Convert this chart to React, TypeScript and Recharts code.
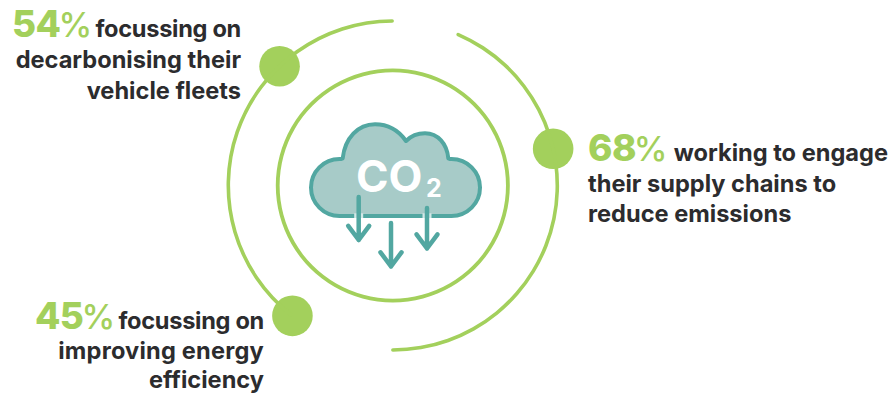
import { PieChart, Pie, Cell, Dot } from "recharts";

const GREEN = "#a3d05c";
const INK = "#2c2c2e";
const TEAL = "#52a7a1";
const CLOUD = "#a7cbc8";
const FONT = "Inter, 'Noto Sans', sans-serif";

// outer ring, clockwise from just past 12 o'clock, in degrees: gap, arc, gap, arc
const outerSegments = [22.4, 157.8, 37, 142.8];
const innerSegments = [360];

const percents = [54, 68, 45];
const markerAngles = [133.5, 12.9, 232.4];

const captions54 = ["focussing on", "decarbonising their", "vehicle fleets"];
const captions68 = ["working to engage", "their supply chains to", "reduce emissions"];
const captions45 = ["focussing on", "improving energy", "efficiency"];

const CX = 392.8;
const CY = 185.5;
const OUTER_R = 164.5;

const toRows = (values: number[]) => values.map((value, i) => ({ name: `s${i}`, value }));

const markerPoint = (angle: number) => ({
  x: CX + OUTER_R * Math.cos((angle * Math.PI) / 180),
  y: CY - OUTER_R * Math.sin((angle * Math.PI) / 180),
});

function Percent({ value, x, y }: { value: number; x: number; y: number }) {
  return (
    <text x={x} y={y} fill={GREEN} fontSize={37} fontFamily={FONT} fontWeight={800} letterSpacing={-0.6}>
      {value}
      <tspan fontWeight={500} dx={-2} fontSize={34}>%</tspan>
    </text>
  );
}

function Line({ text, x, y, anchor, tracking = 0 }: { text: string; x: number; y: number; anchor: "start" | "end"; tracking?: number }) {
  return (
    <text x={x} y={y} textAnchor={anchor} fill={INK} fontSize={23.6} fontFamily={FONT} fontWeight={700} letterSpacing={tracking}>
      {text}
    </text>
  );
}

function Arrow({ x, top, tip, wing }: { x: number; top: number; tip: number; wing: number }) {
  return (
    <path
      d={`M${x} ${top}V${tip}M${x - wing} ${tip - wing * 1.35}L${x} ${tip}L${x + wing} ${tip - wing * 1.35}`}
      fill="none"
      stroke={TEAL}
      strokeWidth={4.5}
      strokeLinecap="round"
      strokeLinejoin="round"
    />
  );
}

function CloudIcon() {
  return (
    <g>
      <path
        d="M339.500 216A28.500 28.500 0 0 1 339.500 159Q341 159 342.700 158.300C345 138 358 124.300 375 124.300C388 124.300 399 131 406 141C411 136 418 133.300 425 133.300C438 133.300 447 144 448.300 158.300Q450 159 451.500 159A28.500 28.500 0 0 1 451.500 216Z"
        fill={CLOUD}
        stroke={TEAL}
        strokeWidth={4}
        strokeLinejoin="round"
      />
      <text x={356} y={192} fill="#ffffff" fontSize={44} fontFamily={FONT} fontWeight={700}>
        CO
      </text>
      <text x={426} y={197} fill="#ffffff" fontSize={25} fontFamily={FONT} fontWeight={700}>
        2
      </text>
      {/* white notch where the arrows cross the cloud's bottom edge */}
      <path d="M358.700 213.500V219M427 213.500V219" stroke="#ffffff" strokeWidth={9} opacity={0.75} />
      <Arrow x={358.7} top={197} tip={240} wing={10.5} />
      <Arrow x={391} top={223} tip={266.5} wing={10.5} />
      <Arrow x={427} top={208} tip={248.5} wing={10.5} />
    </g>
  );
}

export default function App() {
  return (
    <div style={{ position: "absolute", left: 0, top: 0, width: 892, height: 393 }}>
      <PieChart width={892} height={393} margin={{ top: 0, right: 0, bottom: 0, left: 0 }}>
        <Pie
          data={toRows(outerSegments)}
          dataKey="value"
          cx={CX}
          cy={CY}
          innerRadius={OUTER_R - 1.8}
          outerRadius={OUTER_R + 1.8}
          startAngle={89.6}
          endAngle={-270.4}
          cornerRadius={1.8}
          stroke="none"
          isAnimationActive={false}
        >
          {outerSegments.map((_, i) => (
            <Cell key={i} fill={i % 2 === 0 ? "none" : GREEN} />
          ))}
        </Pie>
        <Pie
          data={toRows(innerSegments)}
          dataKey="value"
          cx={CX}
          cy={CY}
          innerRadius={113.2}
          outerRadius={117}
          startAngle={90}
          endAngle={-270}
          fill={GREEN}
          stroke="none"
          isAnimationActive={false}
        />
        {markerAngles.map((angle) => {
          const p = markerPoint(angle);
          return <Dot key={angle} cx={p.x} cy={p.y} r={20.3} fill={GREEN} />;
        })}
        <CloudIcon />

        <Percent value={percents[0]} x={12} y={36.5} />
        <Line text={captions54[0]} x={241} y={36.5} anchor="end" tracking={-0.3} />
        <Line text={captions54[1]} x={241} y={68} anchor="end" />
        <Line text={captions54[2]} x={241} y={99} anchor="end" />

        <Percent value={percents[1]} x={588} y={161} />
        <Line text={captions68[0]} x={888} y={161} anchor="end" />
        <Line text={captions68[1]} x={588} y={192} anchor="start" />
        <Line text={captions68[2]} x={588} y={222} anchor="start" />

        <Percent value={percents[2]} x={35} y={329} />
        <Line text={captions45[0]} x={264} y={329} anchor="end" tracking={-0.3} />
        <Line text={captions45[1]} x={264} y={358.5} anchor="end" tracking={0.2} />
        <Line text={captions45[2]} x={264} y={388} anchor="end" />
      </PieChart>
    </div>
  );
}
